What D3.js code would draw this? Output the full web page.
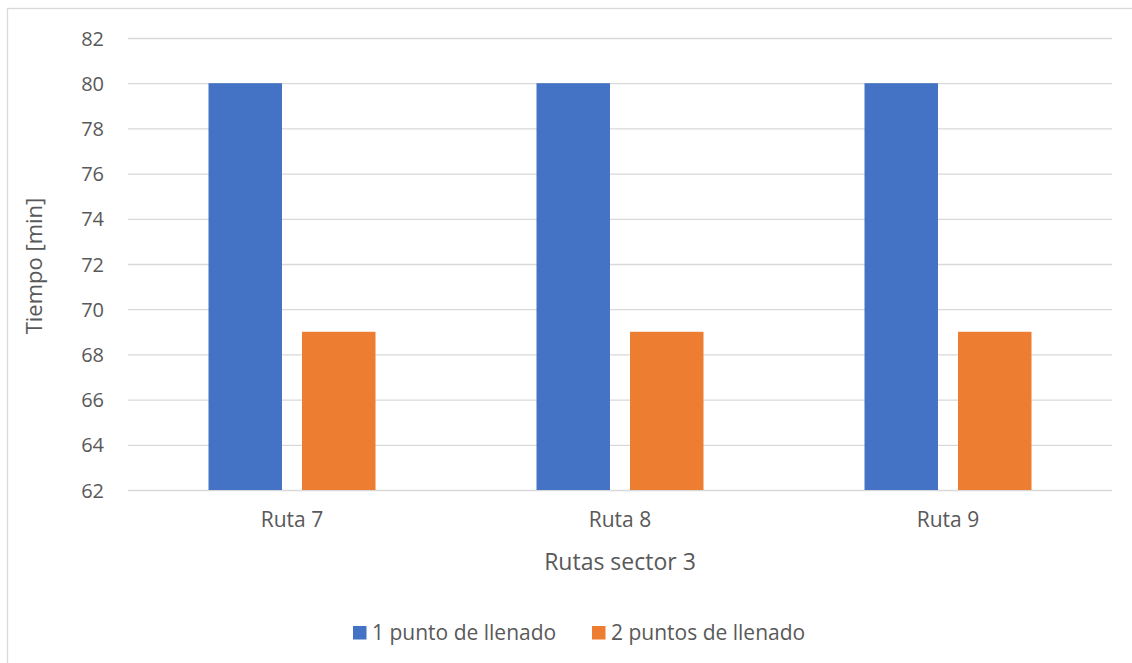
<html>
<head>
<script src="https://d3js.org/d3.v7.min.js"></script>
<style>
  body { margin: 0; background: #fff; }
  svg text { font-family: "Open Sans", sans-serif; fill: #595959; }
  .gridlines line { stroke: #d9d9d9; stroke-width: 1.3; }
  .gridlines .domain { stroke: none; }
  .axis .domain, .axis line { stroke: none; }
  .y.axis text { font-size: 20px; }
  .x.axis text { font-size: 21px; }
</style>
</head>
<body>
<svg id="chart" width="1132" height="663"></svg>
<script>
const routes = ["Ruta 7", "Ruta 8", "Ruta 9"];
const seriesNames = ["1 punto de llenado", "2 puntos de llenado"];
const unPunto = [80, 80, 80];
const dosPuntos = [69, 69, 69];
const yTicks = [62, 64, 66, 68, 70, 72, 74, 76, 78, 80, 82];
const colors = ["#4472C4", "#ED7D31"];

const rows = routes.map((r, i) => ({ route: r, values: [unPunto[i], dosPuntos[i]] }));

const svg = d3.select("svg#chart");
const margin = { top: 38, right: 20, bottom: 173, left: 128 };
const chartWidth = 1112 - margin.left;
const chartHeight = 490 - margin.top;

// outer border of the chart area
svg.append("rect")
  .attr("x", 7.5).attr("y", 8.5)
  .attr("width", 1140).attr("height", 700)
  .attr("fill", "none").attr("stroke", "#d9d9d9").attr("stroke-width", 1.3);

const x0 = d3.scaleBand().domain(routes).range([0, chartWidth]);
const x1 = d3.scaleBand().domain(seriesNames)
  .range([80.5, x0.bandwidth() - 80.5])
  .paddingInner(0.214);
const y = d3.scaleLinear().domain([62, 82]).range([chartHeight, 0]);
const color = d3.scaleOrdinal().domain(seriesNames).range(colors);

const g = svg.append("g").attr("transform", "translate(" + margin.left + "," + margin.top + ")");

g.append("g").attr("class", "gridlines")
  .call(d3.axisLeft(y).tickValues(yTicks).tickSize(-chartWidth).tickFormat(""));

g.append("g").attr("class", "y axis")
  .attr("transform", "translate(-16,0)")
  .call(d3.axisLeft(y).tickValues(yTicks).tickSize(0).tickPadding(8))
  .selectAll("text").attr("dy", "0.35em");

g.append("g").attr("class", "x axis")
  .attr("transform", "translate(0," + chartHeight + ")")
  .call(d3.axisBottom(x0).tickSize(0).tickPadding(22));

const groups = g.selectAll("g.route").data(rows)
  .join("g").attr("class", "route")
  .attr("transform", d => "translate(" + x0(d.route) + ",0)");

groups.selectAll("rect")
  .data(d => d.values.map((v, i) => ({ key: seriesNames[i], value: v })))
  .join("rect")
  .attr("x", d => x1(d.key))
  .attr("width", x1.bandwidth())
  .attr("y", d => y(d.value))
  .attr("height", d => chartHeight - y(d.value))
  .attr("fill", d => color(d.key));

// axis titles
svg.append("text")
  .attr("text-anchor", "middle")
  .attr("x", margin.left + chartWidth / 2)
  .attr("y", 570)
  .style("font-size", "23px")
  .text("Rutas sector 3");

svg.append("text")
  .attr("text-anchor", "middle")
  .attr("transform", "translate(42," + (margin.top + chartHeight / 2 + 2) + ") rotate(-90)")
  .style("font-size", "22px")
  .text("Tiempo [min]");

// legend
const legendX = [353, 592];
const legend = svg.selectAll("g.legend").data(seriesNames)
  .join("g").attr("class", "legend")
  .attr("transform", (d, i) => "translate(" + legendX[i] + ",626)");
legend.append("rect").attr("width", 13.5).attr("height", 13.5).attr("fill", d => color(d));
legend.append("text").attr("x", 19).attr("y", 7).attr("dy", "0.35em")
  .style("font-size", "21px").text(d => d);
</script>
</body>
</html>
